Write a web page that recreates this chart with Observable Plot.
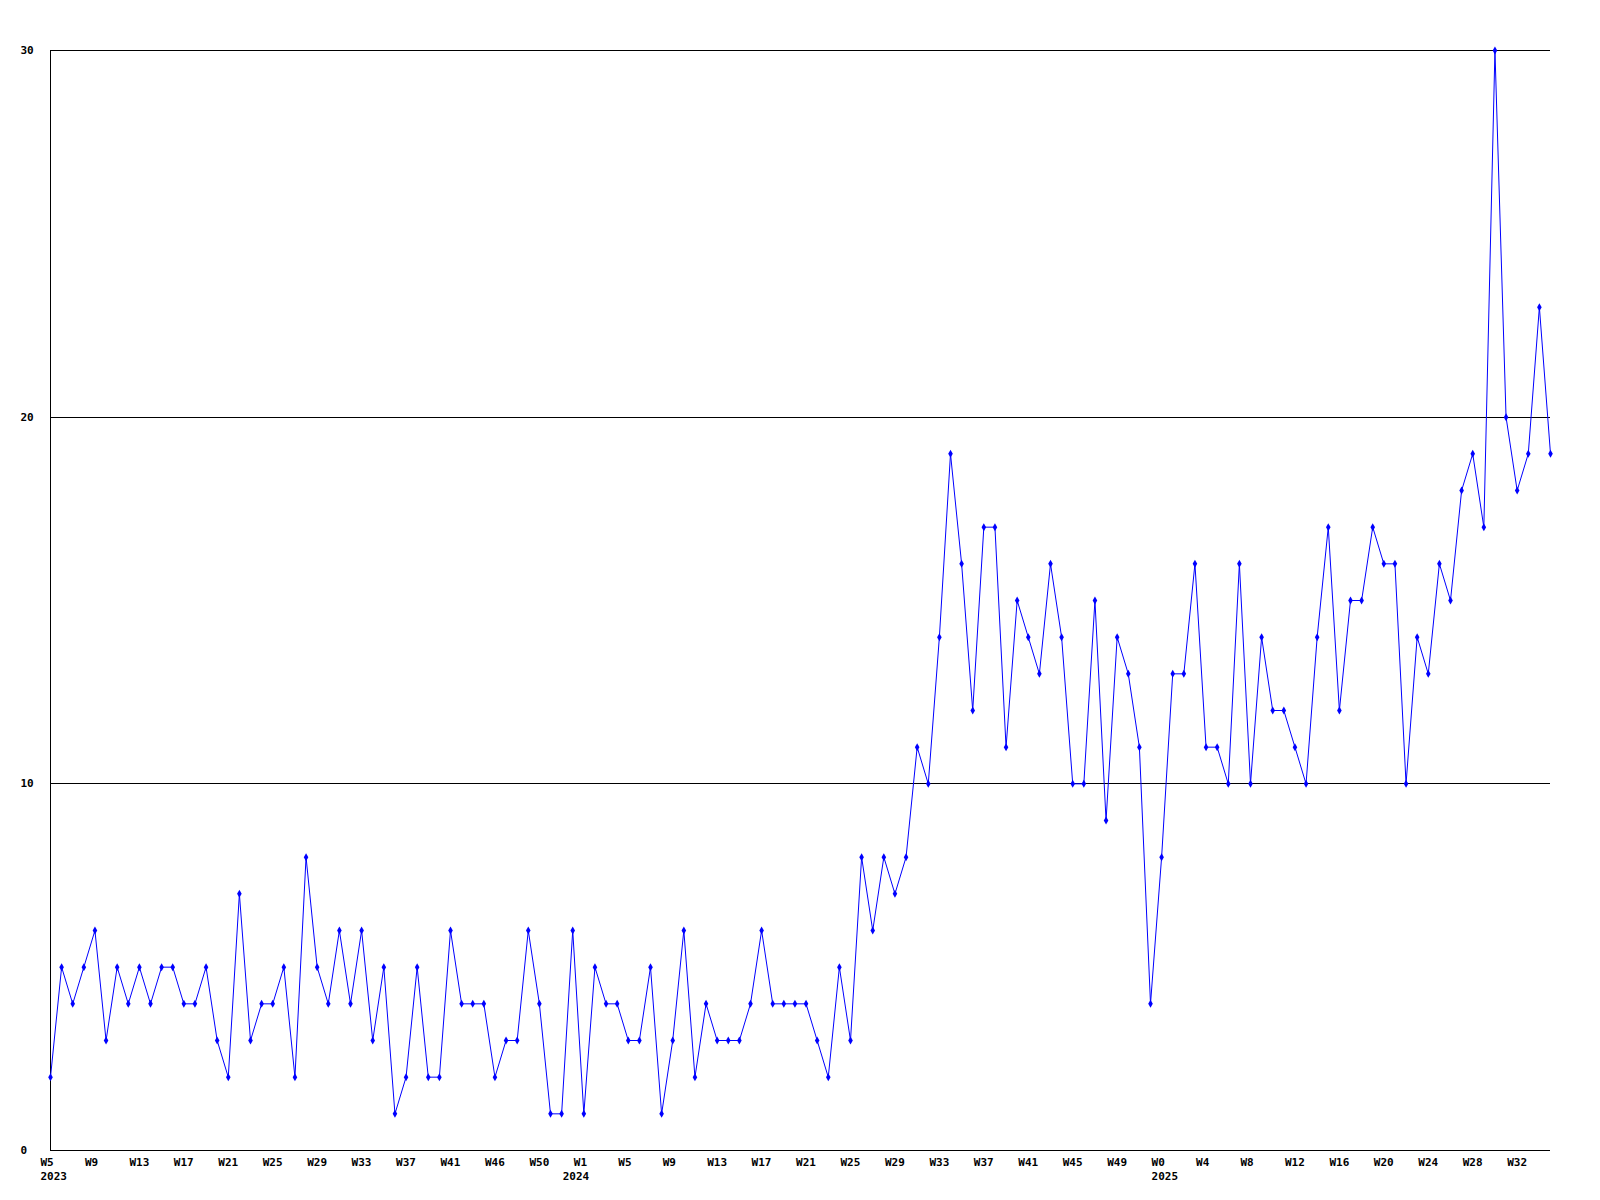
<!DOCTYPE html>
<html>
<head>
<meta charset="utf-8">
<script src="https://cdn.jsdelivr.net/npm/d3@7"></script>
<script src="https://cdn.jsdelivr.net/npm/@observablehq/plot@0.6"></script>
<style>
  html, body { margin: 0; padding: 0; background: #ffffff; }
  #chart svg { display: block; }
</style>
</head>
<body>
<div id="chart"></div>
<script>
// ---- data ----
const years = [2023, 2024, 2025];
const weeks2023 = [5,6,7,8,9,10,11,12,13,14,15,16,17,18,19,20,21,22,23,24,25,26,27,28,29,30,31,32,33,34,35,36,37,38,39,40,41,42,43,45,46,47,48,49,50,51,52];
const weeks2024 = [0,1,2,3,4,5,6,7,8,9,10,11,12,13,14,15,16,17,18,19,20,21,22,23,24,25,26,27,28,29,30,31,32,33,34,35,36,37,38,39,40,41,42,43,44,45,46,47,48,49,50,51,52];
const weeks2025 = [0,1,2,3,4,5,6,7,8,9,10,11,12,13,14,15,16,17,18,19,20,21,22,23,24,25,26,27,28,29,30,31,32,33,34,35];
const values2023 = [2,5,4,5,6,3,5,4,5,4, 5,5,4,4,5,3,2,7,3,4, 4,5,2,8,5,4,6,4,6,3, 5,1,2,5,2,2,6,4,4,4, 2,3,3,6,4,1,1];
const values2024 = [6, 1,5,4,4,3,3,5,1,3,6, 2,4,3,3,3,4,6,4,4,4, 4,3,2,5,3,8,6,8,7,8, 11,10,14,19,16,12,17,17,11,15, 14,13,16,14,10,10,15,9,14,13, 11,4];
const values2025 = [8,13,13,16,11,11,10,16,10,14, 12,12,11,10,14,17,12,15,15,17, 16,16,10,14,13,16,15,18,19,17, 30,20,18,19,23,19];
const yTicks = [0, 10, 20, 30];
const tickEvery = 4;

// ---- build table ----
const weeksByYear = [weeks2023, weeks2024, weeks2025];
const valuesByYear = [values2023, values2024, values2025];
const data = [];
years.forEach((yr, k) => {
  weeksByYear[k].forEach((w, j) => {
    data.push({key: `${yr}-W${w}`, year: yr, week: w, value: valuesByYear[k][j], firstOfYear: j === 0});
  });
});
const keys = data.map(d => d.key);
const tickData = data.filter((d, i) => i % tickEvery === 0);
const yearData = data.filter(d => d.firstOfYear);

const font = "'DejaVu Sans Mono', 'Liberation Mono', monospace";
const blue = "#0000ff";

const chart = Plot.plot({
  width: 1600,
  height: 1200,
  marginTop: 50,
  marginBottom: 50,
  marginLeft: 50,
  marginRight: 50,
  style: {fontFamily: font, fontSize: "11px", fontWeight: "bold", background: "#ffffff", color: "#000"},
  x: {type: "point", domain: keys, padding: 0, round: false, axis: null},
  y: {domain: [0, 30], axis: null},
  marks: [
    Plot.ruleY(yTicks, {stroke: "#000", strokeWidth: 1, shapeRendering: "crispEdges"}),
    Plot.ruleX([keys[0]], {stroke: "#000", strokeWidth: 1, shapeRendering: "crispEdges"}),
    Plot.line(data, {x: "key", y: "value", stroke: blue, strokeWidth: 1}),
    Plot.dot(data, {x: "key", y: "value", symbol: "diamond", r: 2.4, fill: blue, stroke: "none"}),
    Plot.text(yTicks, {y: d => d, text: d => String(d), frameAnchor: "left", dx: -30, textAnchor: "start", fill: "#000"}),
    Plot.text(tickData, {x: "key", text: d => `W${d.week}`, frameAnchor: "bottom", dx: -10, dy: 8, lineAnchor: "top", textAnchor: "start", fill: "#000"}),
    Plot.text(yearData, {x: "key", text: d => String(d.year), frameAnchor: "bottom", dx: -10, dy: 22, lineAnchor: "top", textAnchor: "start", fill: "#000"})
  ]
});
document.getElementById("chart").append(chart);
</script>
</body>
</html>
